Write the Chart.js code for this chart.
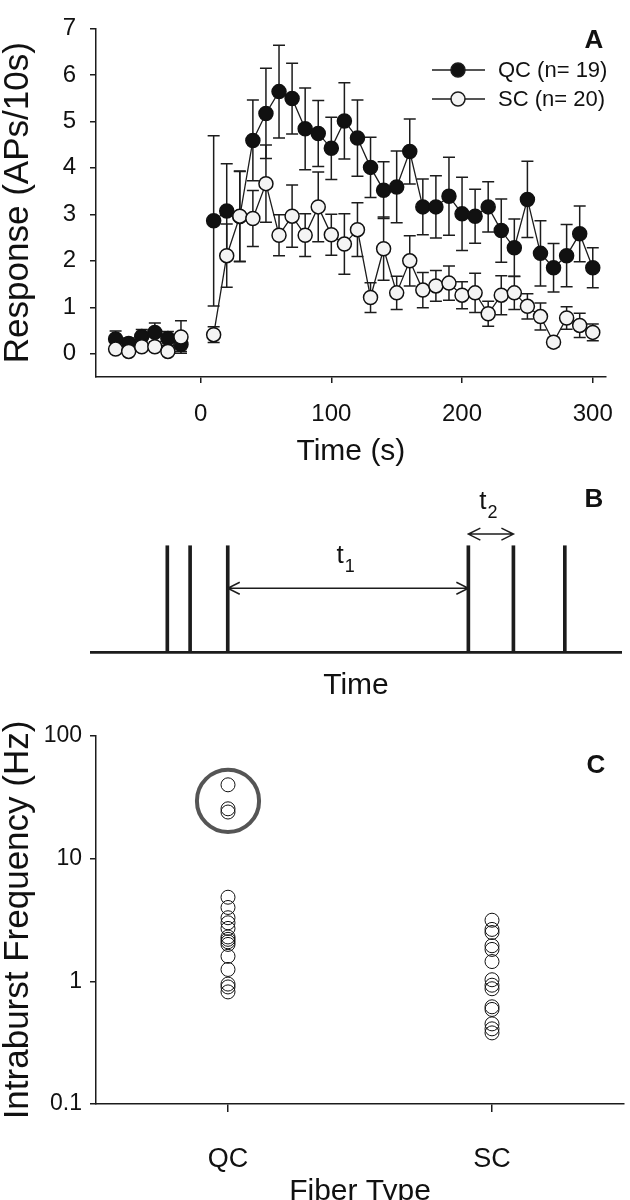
<!DOCTYPE html>
<html lang="en">
<head>
<meta charset="UTF-8">
<title>QC / SC response and intraburst frequency</title>
<script src="https://cdn.jsdelivr.net/npm/chart.js"></script>
<style>
    html, body { margin: 0; padding: 0; background: #fff; overflow: hidden; }
    .painel { position: absolute; left: 0; }
</style>
</head>
<body>
<div class="painel" style="top:0"><canvas id="graficoA" width="630" height="470"></canvas></div>
<div class="painel" style="top:470px"><canvas id="graficoB" width="630" height="240"></canvas></div>
<div class="painel" style="top:710px"><canvas id="graficoC" width="630" height="490"></canvas></div>

<script>
    // ---- panel A: response per 10 s bin ----
    var tempos = [-65, -55, -45, -35, -25, -15,
        10, 20, 30, 40, 50, 60, 70, 80, 90, 100, 110, 120, 130, 140, 150,
        160, 170, 180, 190, 200, 210, 220, 230, 240, 250, 260, 270, 280, 290, 300];
    var qcMedia = [0.32, 0.22, 0.37, 0.46, 0.33, 0.2,
        2.86, 3.07, 2.95, 4.59, 5.17, 5.64, 5.49, 4.84, 4.74, 4.42, 5.01, 4.64, 4.01, 3.52, 3.59,
        4.35, 3.16, 3.16, 3.39, 3.01, 2.96, 3.16, 2.65, 2.28, 3.32, 2.16, 1.85, 2.11, 2.58, 1.85];
    var qcErro = [0.17, 0.12, 0.15, 0.2, 0.15, 0.15,
        1.83, 1.02, 0.97, 0.87, 0.97, 1.0, 0.76, 0.88, 0.71, 0.67, 0.82, 0.82, 0.65, 0.61, 0.77,
        0.7, 0.6, 0.67, 0.84, 0.79, 0.58, 0.54, 0.68, 0.62, 0.82, 0.7, 0.52, 0.67, 0.6, 0.43];
    var scMedia = [0.1, 0.05, 0.15, 0.15, 0.05, 0.36,
        0.41, 2.11, 2.96, 2.91, 3.66, 2.55, 2.96, 2.55, 3.16, 2.56, 2.36, 2.67, 1.21, 2.26, 1.31,
        2.0, 1.37, 1.46, 1.52, 1.26, 1.31, 0.86, 1.26, 1.31, 1.02, 0.8, 0.25, 0.77, 0.61, 0.46];
    var scErro = [0.05, 0.05, 0.05, 0.05, 0.05, 0.35,
        0.17, 0.68, 0.97, 0.6, 0.83, 0.44, 0.67, 0.46, 0.75, 0.44, 0.65, 0.58, 0.32, 0.68, 0.36,
        0.54, 0.38, 0.33, 0.37, 0.29, 0.42, 0.27, 0.42, 0.36, 0.27, 0.29, 0.1, 0.24, 0.26, 0.18];
    var xTicksA = [0, 100, 200, 300];
    var yTicksA = [0, 1, 2, 3, 4, 5, 6, 7];

    // ---- panel B: spike train schematic ----
    var spikeTimes = [14.4, 18.7, 25.8, 71.2, 79.7, 89.4];
    var intervalNames = [['t', '1'], ['t', '2']];

    // ---- panel C: intraburst frequency ----
    var fiberTypes = ['QC', 'SC'];
    var qcFreq = [40, 25.5, 24, 4.85, 4.0, 3.3, 3.0, 2.7, 2.3, 2.2, 2.1, 2.0, 1.6, 1.25, 0.95, 0.9, 0.82];
    var scFreq = [3.15, 2.65, 2.5, 1.95, 1.82, 1.45, 1.03, 0.93, 0.87, 0.62, 0.59, 0.45, 0.41, 0.38];
    var yTicksC = [0.1, 1, 10, 100];
    var faixaDestaque = [16.5, 53];   // the circled fast-bursting QC fibers

    var fonte = '"Liberation Sans", Arial, sans-serif';
    Chart.defaults.font.family = fonte;
    Chart.defaults.color = '#111';

    function eixo(extra) {
        var base = {
            grid: { display: true, drawOnChartArea: false, drawTicks: true, tickLength: 6, color: '#1c1c1c', lineWidth: 1.5 },
            border: { display: true, color: '#1c1c1c', width: 1.5 }
        };
        return Object.assign(base, extra);
    }

    function serie(medias) {
        var pontos = tempos.map((t, i) => ({ x: t, y: medias[i] }));
        var corte = tempos.findIndex(t => t > 0);
        pontos.splice(corte, 0, { x: 0, y: null });
        return pontos;
    }

    var barrasErro = {
        id: 'barrasErro',
        beforeDatasetsDraw(chart) {
            var ctx = chart.ctx, x = chart.scales.x, y = chart.scales.y;
            ctx.save();
            ctx.strokeStyle = '#1c1c1c';
            ctx.lineWidth = 1.5;
            [[qcMedia, qcErro], [scMedia, scErro]].forEach(([m, e]) => {
                tempos.forEach((t, i) => {
                    var px = x.getPixelForValue(t);
                    var topo = y.getPixelForValue(m[i] + e[i]);
                    var base = y.getPixelForValue(m[i] - e[i]);
                    ctx.beginPath();
                    ctx.moveTo(px, topo); ctx.lineTo(px, base);
                    ctx.moveTo(px - 6, topo); ctx.lineTo(px + 6, topo);
                    ctx.moveTo(px - 6, base); ctx.lineTo(px + 6, base);
                    ctx.stroke();
                });
            });
            ctx.restore();
        }
    };

    var legendaA = {
        id: 'legendaA',
        afterDraw(chart) {
            var ctx = chart.ctx;
            ctx.save();
            chart.data.datasets.forEach((ds, i) => {
                var yy = 70 + i * 29;
                ctx.strokeStyle = '#1c1c1c';
                ctx.lineWidth = 1.5;
                ctx.beginPath(); ctx.moveTo(432, yy); ctx.lineTo(485, yy); ctx.stroke();
                ctx.beginPath(); ctx.arc(458, yy, 7, 0, 2 * Math.PI);
                ctx.fillStyle = ds.pointBackgroundColor; ctx.fill(); ctx.stroke();
                ctx.fillStyle = '#111';
                ctx.font = '22px ' + fonte;
                ctx.textBaseline = 'middle';
                ctx.fillText(ds.label, 498, yy + 1);
            });
            ctx.font = 'bold 26px ' + fonte;
            ctx.textAlign = 'center';
            ctx.fillText('A', 594, 41);
            ctx.restore();
        }
    };

    new Chart(document.getElementById('graficoA'), {
        type: 'line',
        data: {
            datasets: [
                {
                    label: 'QC (n= 19)', data: serie(qcMedia), order: 1,
                    borderColor: '#1c1c1c', borderWidth: 1.3,
                    pointRadius: 7, pointBorderWidth: 1.5,
                    pointBackgroundColor: '#111', pointBorderColor: '#111', spanGaps: false
                },
                {
                    label: 'SC (n= 20)', data: serie(scMedia), order: 0,
                    borderColor: '#1c1c1c', borderWidth: 1.3,
                    pointRadius: 7, pointBorderWidth: 1.5,
                    pointBackgroundColor: '#f4f4f4', pointBorderColor: '#111', spanGaps: false
                }
            ]
        },
        options: {
            animation: false,
            responsive: false,
            layout: { autoPadding: false, padding: { top: 8, right: 8, left: 0, bottom: 0 } },
            scales: {
                x: eixo({
                    type: 'linear', min: -80, max: 310,
                    afterBuildTicks: s => { s.ticks = xTicksA.map(v => ({ value: v })); },
                    afterFit: s => { s.height = 93; },
                    ticks: { font: { size: 24 }, padding: 17, maxRotation: 0 },
                    title: { display: true, text: 'Time (s)', font: { size: 30 }, padding: { top: 0, bottom: 0 } }
                }),
                y: eixo({
                    type: 'linear', min: -0.5, max: 7,
                    afterBuildTicks: s => { s.ticks = yTicksA.map(v => ({ value: v })); },
                    afterFit: s => { s.width = 96; },
                    ticks: { font: { size: 24 }, padding: 14 },
                    title: { display: true, text: 'Response (APs/10s)', font: { size: 35 }, padding: { top: -3, bottom: 0 } }
                })
            },
            plugins: { legend: { display: false }, tooltip: { enabled: false } }
        },
        plugins: [barrasErro, legendaA]
    });

    var setasB = {
        id: 'setasB',
        afterDatasetsDraw(chart) {
            var ctx = chart.ctx, x = chart.scales.x, y = chart.scales.y;
            function seta(de, ate, nivel, nome) {
                var x1 = x.getPixelForValue(spikeTimes[de]);
                var x2 = x.getPixelForValue(spikeTimes[ate]);
                var yy = y.getPixelForValue(nivel);
                ctx.beginPath();
                ctx.moveTo(x1, yy); ctx.lineTo(x2, yy);
                ctx.moveTo(x1 + 12, yy - 6); ctx.lineTo(x1, yy); ctx.lineTo(x1 + 12, yy + 6);
                ctx.moveTo(x2 - 12, yy - 6); ctx.lineTo(x2, yy); ctx.lineTo(x2 - 12, yy + 6);
                ctx.stroke();
                ctx.font = '26px ' + fonte;
                var w1 = ctx.measureText(nome[0]).width;
                ctx.font = '18px ' + fonte;
                var w2 = ctx.measureText(nome[1]).width;
                var inicio = (x1 + x2) / 2 - (w1 + w2) / 2 - 3;
                ctx.textBaseline = 'alphabetic';
                ctx.font = '26px ' + fonte;
                ctx.fillText(nome[0], inicio, yy - 25);
                ctx.font = '18px ' + fonte;
                ctx.fillText(nome[1], inicio + w1 + 1, yy - 16);
            }
            ctx.save();
            ctx.strokeStyle = '#1c1c1c';
            ctx.fillStyle = '#111';
            ctx.lineWidth = 1.5;
            seta(2, 3, 0.6, intervalNames[0]);
            seta(3, 4, 1.11, intervalNames[1]);
            ctx.font = 'bold 26px ' + fonte;
            ctx.textAlign = 'center';
            ctx.textBaseline = 'middle';
            ctx.fillText('B', 594, 30);
            ctx.restore();
        }
    };

    new Chart(document.getElementById('graficoB'), {
        type: 'bar',
        data: {
            datasets: [{
                label: 'spikes',
                data: spikeTimes.map(t => ({ x: t, y: 1 })),
                backgroundColor: '#1c1c1c',
                barThickness: 3
            }]
        },
        options: {
            animation: false,
            responsive: false,
            layout: { autoPadding: false, padding: { top: 12, right: 9, left: 91, bottom: 0 } },
            scales: {
                x: {
                    type: 'linear', min: 0, max: 100, offset: false,
                    grid: { display: false },
                    ticks: { display: false },
                    border: { display: true, color: '#1c1c1c', width: 2.7 },
                    afterFit: s => { s.height = 58; },
                    title: { display: true, text: 'Time', font: { size: 30 }, padding: { top: 0, bottom: 6 } }
                },
                y: { display: false, min: 0, max: 1.6 }
            },
            plugins: { legend: { display: false }, tooltip: { enabled: false } }
        },
        plugins: [setasB]
    });

    var anelC = {
        id: 'anelC',
        afterDatasetsDraw(chart) {
            var ctx = chart.ctx, x = chart.scales.x, y = chart.scales.y;
            var cx = x.getPixelForValue(0);
            var topo = y.getPixelForValue(faixaDestaque[1]);
            var base = y.getPixelForValue(faixaDestaque[0]);
            ctx.save();
            ctx.strokeStyle = '#555';
            ctx.lineWidth = 4;
            ctx.beginPath();
            ctx.arc(cx, (topo + base) / 2, (base - topo) / 2, 0, 2 * Math.PI);
            ctx.stroke();
            ctx.fillStyle = '#111';
            ctx.font = 'bold 26px ' + fonte;
            ctx.textAlign = 'center';
            ctx.textBaseline = 'middle';
            ctx.fillText('C', 596, 56);
            ctx.restore();
        }
    };

    var pontoC = {
        pointRadius: 7, pointBorderWidth: 1,
        pointBorderColor: '#111', pointBackgroundColor: 'rgba(0,0,0,0)'
    };

    new Chart(document.getElementById('graficoC'), {
        type: 'scatter',
        data: {
            labels: fiberTypes,
            datasets: [
                Object.assign({ label: 'QC', data: qcFreq.map(v => ({ x: 'QC', y: v })) }, pontoC),
                Object.assign({ label: 'SC', data: scFreq.map(v => ({ x: 'SC', y: v })) }, pontoC)
            ]
        },
        options: {
            animation: false,
            responsive: false,
            layout: { autoPadding: false, padding: { top: 26, right: 6, left: 0, bottom: 0 } },
            scales: {
                x: eixo({
                    type: 'category', labels: fiberTypes, offset: true,
                    grid: { display: true, drawOnChartArea: false, drawTicks: true, tickLength: 8, color: '#1c1c1c', lineWidth: 1.5, offset: false },
                    afterFit: s => { s.height = 96; },
                    ticks: { font: { size: 27 }, padding: 31 },
                    title: { display: true, text: 'Fiber Type', font: { size: 30 }, padding: { top: 0, bottom: -10 } }
                }),
                y: eixo({
                    type: 'logarithmic', min: 0.1, max: 100,
                    afterBuildTicks: s => { s.ticks = yTicksC.map(v => ({ value: v })); },
                    afterFit: s => { s.width = 96; },
                    ticks: { font: { size: 23 }, padding: 8, callback: v => String(v) },
                    title: { display: true, text: 'Intraburst Frequency (Hz)', font: { size: 35 }, padding: { top: -3, bottom: 0 } }
                })
            },
            plugins: { legend: { display: false }, tooltip: { enabled: false } }
        },
        plugins: [anelC]
    });
</script>
</body>
</html>
